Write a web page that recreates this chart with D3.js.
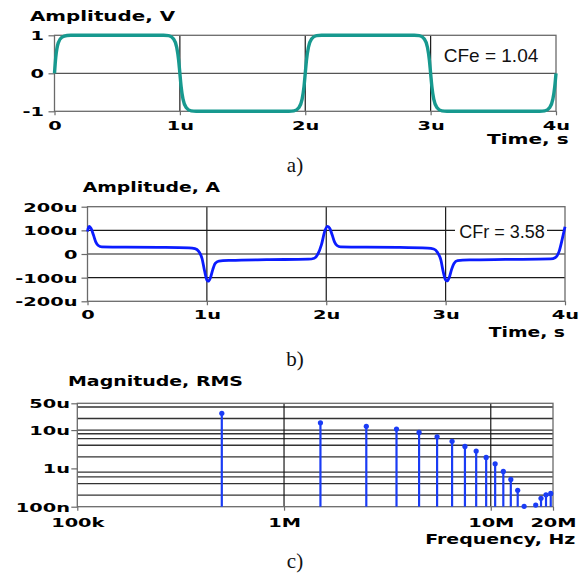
<!DOCTYPE html>
<html>
<head>
<meta charset="utf-8">
<script src="https://cdn.jsdelivr.net/npm/d3@7"></script>
<style>
  html, body { margin: 0; padding: 0; background: #fff; }
  svg { display: block; }
  .lbl { font-family: "DejaVu Sans", Verdana, sans-serif; font-weight: bold; fill: #000; }
  .cf { font-family: "Liberation Sans", Arial, sans-serif; fill: #111; }
  .cap { font-family: "Liberation Serif", "Times New Roman", serif; fill: #111; }
</style>
</head>
<body>
<svg id="fig" width="584" height="578"></svg>
<script>
// ---- (a) source voltage, V, over four microseconds ----
const voltT = [0, 0.01, 0.03, 0.06, 0.1, 0.13, 0.87, 0.91, 0.95, 0.975, 0.99, 1.0, 1.01, 1.025,
               1.05, 1.09, 1.13, 1.87, 1.91, 1.95, 1.975, 1.99, 2.0, 2.01, 2.025, 2.05, 2.09,
               2.13, 2.87, 2.91, 2.95, 2.975, 2.99, 3.0, 3.01, 3.025, 3.05, 3.09, 3.13, 3.87,
               3.91, 3.95, 3.975, 3.99, 4.0];
const voltV = [0, 0.42, 0.8, 0.95, 0.995, 1, 1, 0.99, 0.9, 0.68, 0.35, 0, -0.35, -0.68,
               -0.9, -0.99, -1, -1, -0.99, -0.9, -0.68, -0.35, 0, 0.35, 0.68, 0.9, 0.99,
               1, 1, 0.99, 0.9, 0.68, 0.35, 0, -0.35, -0.68, -0.9, -0.99, -1, -1,
               -0.99, -0.9, -0.68, -0.35, 0];
const voltYTicks = [1, 0, -1];
const voltYLabels = ["1", "0", "-1"];

// ---- (b) current, microamps ----
const currT = [0, 0.008, 0.016, 0.03, 0.05, 0.07, 0.09, 0.12, 0.3, 0.6, 0.85, 0.9, 0.93, 0.96,
               0.98, 1.0, 1.012, 1.03, 1.05, 1.07, 1.1, 1.2, 1.5, 1.85, 1.9, 1.93, 1.96, 1.99,
               2.012, 2.03, 2.05, 2.07, 2.09, 2.12, 2.3, 2.6, 2.85, 2.9, 2.93, 2.96, 2.98, 3.0,
               3.012, 3.03, 3.05, 3.07, 3.1, 3.2, 3.5, 3.88, 3.92, 3.95, 3.98, 4.0];
const currA = [95, 112, 117, 108, 80, 50, 36, 30, 29, 28, 26, 23, 12, -20,
               -70, -110, -115, -100, -65, -40, -30, -27, -24, -22, -18, 0, 40, 100,
               117, 108, 80, 50, 36, 30, 29, 28, 25, 21, 8, -25, -75, -110,
               -114, -100, -65, -40, -28, -25, -23, -21, -15, 10, 70, 115];
const currYTicks = [200, 100, 0, -100, -200];
const currYLabels = ["200u", "100u", "0", "-100u", "-200u"];

const timeTicks = [0, 1, 2, 3, 4];
const timeLabels = ["0", "1u", "2u", "3u", "4u"];

// ---- (c) RMS spectrum: odd harmonics of 500 kHz ----
const harmFreqMHz = [0.5, 1.5, 2.5, 3.5, 4.5, 5.5, 6.5, 7.5, 8.5, 9.5, 10.5, 11.5, 12.5,
                     13.5, 14.5, 16.5, 17.5, 18.5, 19.5];
const harmRMS = [27.3e-6, 15.5e-6, 12.5e-6, 10.6e-6, 8.7e-6, 6.7e-6, 5.1e-6, 3.75e-6,
                 2.83e-6, 1.93e-6, 1.32e-6, 0.834e-6, 0.515e-6, 0.267e-6, 0.102e-6,
                 0.11e-6, 0.165e-6, 0.205e-6, 0.222e-6];
const magTicks = [50e-6, 10e-6, 1e-6, 100e-9];
const magLabels = ["50u", "10u", "1u", "100n"];
const magGrid = [2e-7, 4e-7, 6e-7, 8e-7, 2e-6, 4e-6, 6e-6, 8e-6, 10e-6, 20e-6, 40e-6];
const freqTicks = [1e5, 1e6, 1e7, 2e7];
const freqLabels = ["100k", "1M", "10M", "20M"];

const svg = d3.select("#fig");
const TICK_K = 1.55;      // horizontal widening of the bold axis lettering
const FRAME = "#6a6a6a", GRID = "#1a1a1a", HGRID = "#555";

function widen(sel, k) {
  sel.each(function () {
    const w = this.getComputedTextLength();
    this.setAttribute("textLength", w * k);
    this.setAttribute("lengthAdjust", "spacingAndGlyphs");
  });
}

function boldText(g, x, y, txt, anchor, len) {
  const t = g.append("text").attr("class", "lbl").attr("x", x).attr("y", y)
    .attr("text-anchor", anchor).style("font-size", "13.5px").text(txt);
  t.attr("textLength", len).attr("lengthAdjust", "spacingAndGlyphs");
  return t;
}

function axes(g, x, y, xTicks, xLabels, yTicks, yLabels, xBase, yEnd) {
  const ax = g.append("g").attr("transform", `translate(0,${y.range()[0]})`)
    .call(d3.axisBottom(x).tickValues(xTicks).tickSize(4)
      .tickFormat((d, i) => xLabels[i]));
  const ay = g.append("g").attr("transform", `translate(${x.range()[0]},0)`)
    .call(d3.axisLeft(y).tickValues(yTicks).tickSize(6)
      .tickFormat((d, i) => yLabels[i]));
  [ax, ay].forEach(a => {
    a.select(".domain").remove();
    a.selectAll(".tick line").attr("stroke", FRAME).attr("stroke-width", 1.2);
    a.selectAll(".tick text").attr("class", "lbl").attr("fill", "#000")
      .style("font-size", "12.5px");
  });
  ax.selectAll(".tick text").attr("dy", null).attr("y", xBase - y.range()[0]);
  ay.selectAll(".tick text").attr("dy", "0.36em").attr("x", yEnd - x.range()[0]);
  widen(ax.selectAll(".tick text"), TICK_K);
  widen(ay.selectAll(".tick text"), TICK_K);
}

function frame(g, x, y) {
  const [x0, x1] = x.range(), [y0, y1] = y.range();
  g.append("rect").attr("x", x0).attr("y", y1).attr("width", x1 - x0).attr("height", y0 - y1)
    .attr("fill", "none").attr("stroke", FRAME).attr("stroke-width", 1.3);
}

// ================= panel (a) =================
{
  const g = svg.append("g");
  const x = d3.scaleLinear().domain([0, 4]).range([54.5, 556]);
  const y = d3.scaleLinear().domain([-1, 1]).range([111.3, 35.3]);
  g.selectAll(".vg").data([1, 2, 3]).join("line")
    .attr("x1", d => x(d)).attr("x2", d => x(d)).attr("y1", y(1)).attr("y2", y(-1))
    .attr("stroke", GRID).attr("stroke-width", 1.2);
  g.append("line").attr("x1", x(0)).attr("x2", x(4)).attr("y1", y(0)).attr("y2", y(0))
    .attr("stroke", HGRID).attr("stroke-width", 1.2);
  frame(g, x, y);
  axes(g, x, y, timeTicks, timeLabels, voltYTicks, voltYLabels, 130, 44);
  boldText(g, 30, 20.5, "Amplitude, V", "start", 145);
  boldText(g, 568.7, 144.3, "Time, s", "end", 81.7);

  const line = d3.line().x((d, i) => x(voltT[i])).y(d => y(d)).curve(d3.curveMonotoneX);
  g.append("path").datum(voltV).attr("d", line).attr("fill", "none")
    .attr("stroke", "#17998f").attr("stroke-width", 3.4).attr("stroke-linejoin", "round");

  g.append("text").attr("class", "cf").attr("x", 491).attr("y", 61.7)
    .attr("text-anchor", "middle").style("font-size", "19px").text("CFe = 1.04");
  g.append("text").attr("class", "cap").attr("x", 295).attr("y", 171.7)
    .attr("text-anchor", "middle").style("font-size", "21px").text("a)");
}

// ================= panel (b) =================
{
  const g = svg.append("g");
  const x = d3.scaleLinear().domain([0, 4]).range([87.5, 565]);
  const y = d3.scaleLinear().domain([-200, 200]).range([301.3, 206.7]);
  g.selectAll(".vg").data([1, 2, 3]).join("line")
    .attr("x1", d => x(d)).attr("x2", d => x(d)).attr("y1", y(200)).attr("y2", y(-200))
    .attr("stroke", GRID).attr("stroke-width", 1.2);
  g.selectAll(".hg").data([100, 0, -100]).join("line")
    .attr("x1", x(0)).attr("x2", x(4)).attr("y1", d => y(d)).attr("y2", d => y(d))
    .attr("stroke", GRID).attr("stroke-width", 1.2);
  frame(g, x, y);
  axes(g, x, y, timeTicks, timeLabels, currYTicks, currYLabels, 319.3, 77.5);
  boldText(g, 82.7, 192, "Amplitude, A", "start", 137.3);
  boldText(g, 565, 337, "Time, s", "end", 76.3);

  // crest-factor tag sits on a white patch over the 100u grid line
  g.append("rect").attr("x", 455).attr("y", 222).attr("width", 92).attr("height", 20)
    .attr("fill", "#fff");

  const line = d3.line().x((d, i) => x(currT[i])).y(d => y(d)).curve(d3.curveMonotoneX);
  g.append("path").datum(currA).attr("d", line).attr("fill", "none")
    .attr("stroke", "#0b1cff").attr("stroke-width", 2.8).attr("stroke-linejoin", "round");

  g.append("text").attr("class", "cf").attr("x", 502).attr("y", 238)
    .attr("text-anchor", "middle").style("font-size", "18px").text("CFr = 3.58");
  g.append("text").attr("class", "cap").attr("x", 295).attr("y", 366)
    .attr("text-anchor", "middle").style("font-size", "21px").text("b)");
}

// ================= panel (c) =================
{
  const g = svg.append("g");
  const x = d3.scaleLog().domain([1e5, 2e7]).range([77.3, 553]);
  const y = d3.scaleLog().domain([1e-7, 5e-5]).range([506.7, 403.3]);
  g.selectAll(".hg").data(magGrid).join("line")
    .attr("x1", x(1e5)).attr("x2", x(2e7)).attr("y1", d => y(d)).attr("y2", d => y(d))
    .attr("stroke", "#333").attr("stroke-width", 1.4);
  g.selectAll(".vg").data([1e6, 1e7]).join("line")
    .attr("x1", d => x(d)).attr("x2", d => x(d)).attr("y1", y(5e-5)).attr("y2", y(1e-7))
    .attr("stroke", GRID).attr("stroke-width", 1.2);
  frame(g, x, y);
  axes(g, x, y, freqTicks, freqLabels, magTicks, magLabels, 527.5, 70);
  boldText(g, 68, 386, "Magnitude, RMS", "start", 175);
  boldText(g, 575.3, 544, "Frequency, Hz", "end", 150);

  const harm = harmFreqMHz.map((f, i) => ({ f: f * 1e6, v: harmRMS[i] }));
  g.selectAll(".stem").data(harm).join("line")
    .attr("x1", d => x(d.f)).attr("x2", d => x(d.f))
    .attr("y1", y(1e-7)).attr("y2", d => y(d.v))
    .attr("stroke", "#1a3cf5").attr("stroke-width", 2.2);
  g.selectAll(".dot").data(harm).join("circle")
    .attr("cx", d => x(d.f)).attr("cy", d => y(d.v)).attr("r", 2.6)
    .attr("fill", "#1a3cf5");

  g.append("text").attr("class", "cap").attr("x", 295).attr("y", 568)
    .attr("text-anchor", "middle").style("font-size", "21px").text("c)");
}
</script>
</body>
</html>
